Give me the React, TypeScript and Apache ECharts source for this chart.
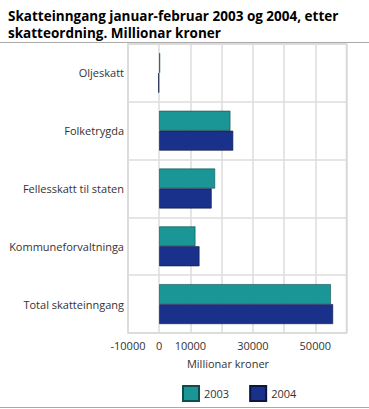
import React, { useEffect, useRef } from "react";
import * as echarts from "echarts";

const categories = ["Oljeskatt", "Folketrygda", "Fellesskatt til staten", "Kommuneforvaltninga", "Total skatteinngang"];
const values2003 = [300, 22800, 17900, 11600, 55000];
const values2004 = [-300, 23700, 16800, 12900, 55700];
const shownTicks = [-10000, 0, 10000, 30000, 50000];

export default function App() {
  const ref = useRef<HTMLDivElement>(null);
  useEffect(() => {
    document.body.style.margin = "0";
    const chart = echarts.init(ref.current!, null, { renderer: "svg" });
    const font = "'Open Sans', sans-serif";
    chart.setOption({
      animation: false,
      textStyle: { fontFamily: font },
      title: {
        text: "Skatteinngang januar-februar 2003 og 2004, etter\nskatteordning. Millionar kroner",
        left: 3,
        top: 2,
        textStyle: { fontSize: 13.5, fontWeight: "bold", color: "#000", lineHeight: 17, fontFamily: font },
      },
      graphic: [
        { type: "line", shape: { x1: 0, y1: 42.5, x2: 369, y2: 42.5 }, style: { stroke: "#aaa", lineWidth: 1 } },
        { type: "line", shape: { x1: 0, y1: 407.5, x2: 369, y2: 407.5 }, style: { stroke: "#aaa", lineWidth: 1 } },
        {
          type: "text",
          x: 228,
          y: 363,
          style: { text: "Millionar kroner", fill: "#333", font: `11px ${font}`, textAlign: "center", textVerticalAlign: "middle" },
        },
      ],
      grid: { left: 128, right: 22.5, top: 44, bottom: 76, show: true, borderColor: "#d0d0d0", borderWidth: 1.5 },
      legend: {
        left: 177,
        top: 380,
        itemWidth: 16,
        itemHeight: 15,
        itemGap: 20,
        icon: "rect",
        textStyle: { fontSize: 11, color: "#333", fontFamily: font },
        data: ["2003", "2004"],
      },
      xAxis: {
        type: "value",
        min: -10000,
        max: 60000,
        interval: 10000,
        axisLine: { show: false },
        axisTick: { show: false },
        splitLine: { show: true, lineStyle: { color: "#dcdcdc", width: 1.5 } },
        axisLabel: {
          fontSize: 11,
          color: "#333",
          margin: 7,
          formatter: (v: number) => (shownTicks.includes(v) ? String(v) : ""),
        },
      },
      yAxis: {
        type: "category",
        data: categories,
        inverse: true,
        axisLine: { show: false },
        axisTick: { show: false },
        splitLine: { show: true, lineStyle: { color: "#dcdcdc", width: 1.5 } },
        axisLabel: { fontSize: 11, color: "#333", margin: 4 },
      },
      series: [
        {
          name: "2003",
          type: "bar",
          data: values2003,
          barGap: "0%",
          barCategoryGap: "31%",
          itemStyle: { color: "#1a9696", borderColor: "#0f4d4d", borderWidth: 0.6 },
        },
        {
          name: "2004",
          type: "bar",
          data: values2004,
          barGap: "0%",
          barCategoryGap: "31%",
          itemStyle: { color: "#1a318c", borderColor: "#0b1640", borderWidth: 0.6 },
        },
      ],
    });
    return () => chart.dispose();
  }, []);
  return <div ref={ref} style={{ width: 369, height: 409 }} />;
}
